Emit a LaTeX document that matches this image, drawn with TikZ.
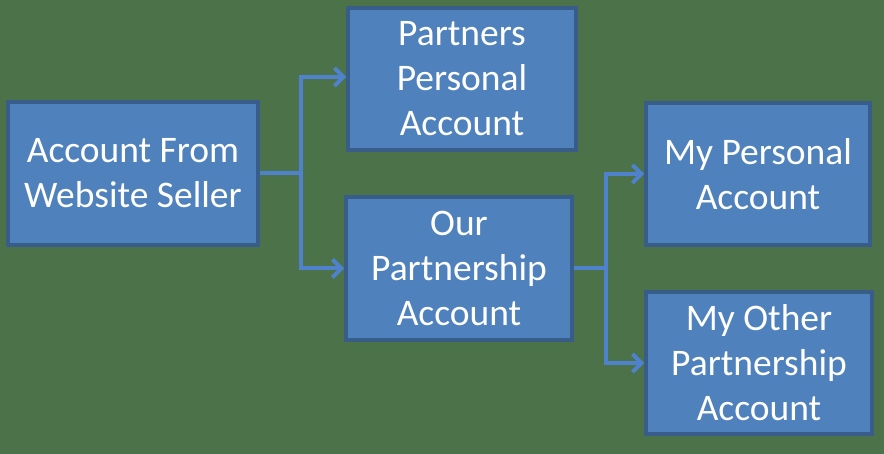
\documentclass[tikz,border=0pt]{standalone}
\usepackage{fontspec}
\setmainfont{Carlito}
\usetikzlibrary{arrows.meta}
\definecolor{bg}{HTML}{4B7249}
\definecolor{boxfill}{HTML}{4F81BD}
\definecolor{boxline}{HTML}{385D8A}
\definecolor{conn}{HTML}{4F81CC}
\begin{document}
\begin{tikzpicture}[x=1pt,y=1pt,
  acct/.style={draw=boxline,line width=3.5pt,fill=boxfill,text=white,align=center,
    font=\fontsize{37.5}{45}\selectfont,inner sep=0pt},
  conline/.style={draw=conn,line width=4pt},
  link/.style={conline,-{Straight Barb[length=9pt,width=18pt,line width=4pt]}}]
\fill[bg] (0,0) rectangle (884,454);
\useasboundingbox (0,0) rectangle (884,454);
\node[acct,minimum width=250pt,minimum height=143pt] (a) at (133,280.5) {Account From\\Website Seller};
\node[acct,minimum width=228pt,minimum height=142pt] (b) at (462,375) {Partners\\Personal\\Account};
\node[acct,minimum width=226pt,minimum height=143pt] (c) at (459,185.5) {Our\\Partnership\\Account};
\node[acct,minimum width=224pt,minimum height=142pt] (d) at (758,280) {My Personal\\Account};
\node[acct,minimum width=226pt,minimum height=142pt] (e) at (759,91) {My Other\\Partnership\\Account};
\coordinate (j1) at (301,280.5);
\coordinate (j2) at (606,185.5);
\draw[conline] (a.east) -- (j1);
\draw[link] (j1) |- ([yshift=1pt]b.west |- 0,376) ;
\draw[link] (j1) |- (c.west);
\draw[conline] (c.east) -- (j2);
\draw[link] (j2) |- (d.west);
\draw[link] (j2) |- (e.west);
\end{tikzpicture}
\end{document}
